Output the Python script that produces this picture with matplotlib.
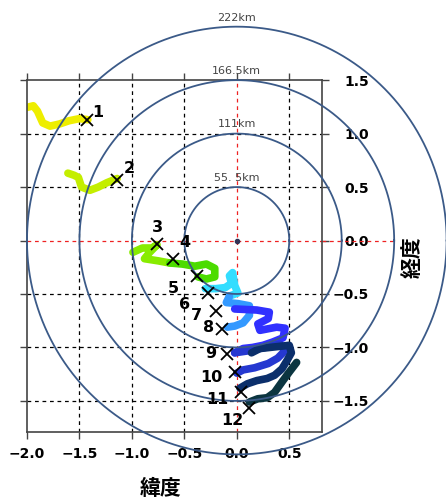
#!/usr/bin/env python3
# -*- coding: utf-8 -*-
"""
Typhoon-like track with distance rings (55.5 km per 0.5 deg) around the origin.
"""
import numpy as np
import matplotlib.pyplot as plt

# ring radii (deg) and their labels
ring_r = [0.5, 1.0, 1.5, 2.0]
ring_lab = ["55. 5km", "111km", "166.5km", "222km"]

# numbered positions (x = 緯度, y = 経度)
pt_x = [-1.43, -1.14, -0.76, -0.61, -0.38, -0.27, -0.20, -0.14, -0.09, -0.02, 0.04, 0.12]
pt_y = [1.13, 0.57, -0.03, -0.17, -0.33, -0.49, -0.66, -0.83, -1.06, -1.23, -1.42, -1.57]
pt_lab = [str(i) for i in range(1, 13)]

# track pieces, each with its colour
trk_a_x = [-2.02, -1.94, -1.90, -1.85, -1.78, -1.69, -1.60, -1.50, -1.42]
trk_a_y = [1.24, 1.26, 1.21, 1.10, 1.07, 1.09, 1.12, 1.14, 1.13]
trk_b_x = [-1.61, -1.55, -1.51, -1.48, -1.40, -1.32, -1.24, -1.14]
trk_b_y = [0.63, 0.61, 0.59, 0.50, 0.47, 0.50, 0.54, 0.58]
trk_c1_x = [-0.99, -0.90, -0.81, -0.76, -0.83, -0.88, -0.75, -0.64]
trk_c1_y = [-0.11, -0.07, -0.07, -0.04, -0.11, -0.17, -0.19, -0.21]
trk_c2_x = [-0.64, -0.52, -0.40, -0.29, -0.21, -0.21, -0.29, -0.37]
trk_c2_y = [-0.21, -0.22, -0.24, -0.22, -0.26, -0.34, -0.36, -0.34]
trk_d_x = [-0.30, -0.20, -0.11, -0.05, -0.07, -0.04, -0.02, 0.01, -0.07]
trk_d_y = [-0.45, -0.45, -0.44, -0.40, -0.33, -0.30, -0.42, -0.49, -0.52]
trk_e_x = [-0.07, -0.10, 0.01, 0.12, 0.12, 0.06, -0.02, -0.09]
trk_e_y = [-0.52, -0.58, -0.59, -0.61, -0.70, -0.77, -0.80, -0.81]
trk_f_x = [-0.02, 0.19, 0.31, 0.30, 0.20, 0.22, 0.38, 0.46, 0.44, 0.34, 0.25, 0.15, 0.06, -0.02]
trk_f_y = [-0.64, -0.65, -0.67, -0.73, -0.78, -0.84, -0.81, -0.82, -0.91, -0.95, -0.98, -1.00, -1.01, -1.05]
trk_g_x = [-0.02, 0.12, 0.27, 0.41, 0.46, 0.39, 0.30, 0.17, 0.06, 0.00]
trk_g_y = [-1.05, -1.03, -1.00, -0.97, -1.03, -1.10, -1.15, -1.19, -1.21, -1.24]
trk_h_x = [0.14, 0.22, 0.50, 0.52, 0.48, 0.43, 0.36, 0.29, 0.19, 0.10, 0.03]
trk_h_y = [-1.05, -1.01, -0.98, -1.05, -1.12, -1.20, -1.26, -1.29, -1.31, -1.34, -1.38]
trk_i_x = [0.57, 0.50, 0.44, 0.36, 0.29, 0.20, 0.12]
trk_i_y = [-1.14, -1.23, -1.31, -1.42, -1.47, -1.48, -1.51]

xticks = [-2.0, -1.5, -1.0, -0.5, 0.0, 0.5]
yticks = [-1.5, -1.0, -0.5, 0.0, 0.5, 1.0, 1.5]

tracks = [
    (trk_a_x, trk_a_y, "#eeee00"),
    (trk_b_x, trk_b_y, "#c4ee00"),
    (trk_c1_x, trk_c1_y, "#88ec00"),
    (trk_c2_x, trk_c2_y, "#4cdc00"),
    (trk_d_x, trk_d_y, "#33ddff"),
    (trk_e_x, trk_e_y, "#3399ff"),
    (trk_f_x, trk_f_y, "#3030ff"),
    (trk_g_x, trk_g_y, "#2538d0"),
    (trk_h_x, trk_h_y, "#0b2f6b"),
    (trk_i_x, trk_i_y, "#0b3540"),
]

# label offsets (points) for the numbers
lab_off = [(8, 5), (9, 8), (0, 12), (9, 12), (-17, -9), (-17, -8), (-14, -3),
           (-10, 1), (-12, 0), (-17, -4), (-17, -5), (-12, -9)]

fig = plt.figure(figsize=(4.46, 5.04), dpi=100)
ax = fig.add_axes([0.0605, 0.143, 0.661, 0.698])
ax.set_xlim(-2.0, 0.81)
ax.set_ylim(-1.79, 1.5)

for tx, ty, c in tracks:
    ax.plot(tx, ty, color=c, lw=5.5, solid_capstyle="round", solid_joinstyle="round", zorder=2)

# grid
for v in xticks:
    if v == -2.0:
        continue
    col = "#ee2222" if v == 0.0 else "black"
    ax.axvline(v, color=col, ls=(0, (3, 3)), lw=0.9, zorder=1)
for v in yticks:
    if v == 1.5:
        continue
    col = "#ee2222" if v == 0.0 else "black"
    ax.axhline(v, color=col, ls=(0, (3, 3)), lw=0.9, zorder=1)
ax.plot([0.81, 1.52], [0, 0], color="#ee2222", ls=(0, (3, 3)), lw=0.9, clip_on=False)

# distance rings
th = np.linspace(0, 2 * np.pi, 400)
for r, lab in zip(ring_r, ring_lab):
    ax.plot(r * np.cos(th), r * np.sin(th), color="#3b5a88", lw=1.3, clip_on=False, zorder=3)
    ax.annotate(lab, (0, r), xytext=(0, 3), textcoords="offset points",
                ha="center", va="bottom", fontsize=8, color="#444444",
                annotation_clip=False)
ax.plot(0, 0, "o", color="#333355", ms=3, zorder=4)

ax.plot(pt_x, pt_y, "x", color="black", ms=8, mew=1.3, ls="none", zorder=5)
for x, y, lab, off in zip(pt_x, pt_y, pt_lab, lab_off):
    ax.annotate(lab, (x, y), xytext=off, textcoords="offset points",
                ha="center", va="center", fontsize=11.5, fontweight="bold",
                color="black", zorder=6)

ax.set_xticks(xticks)
ax.set_yticks(yticks)
ax.set_xticklabels([f"{v:.1f}".replace("-", "\u2212") for v in xticks],
                   fontsize=10, fontweight="bold")
ax.set_yticklabels([f"{v:.1f}".replace("-", "\u2212") for v in yticks],
                   fontsize=10, fontweight="bold")
ax.tick_params(axis="both", direction="out", length=5, width=1, color="#444444",
               top=True, bottom=True, left=True, right=True)
ax.tick_params(axis="y", labelleft=False, labelright=True, pad=29)
ax.tick_params(axis="x", pad=6)
for t in ax.get_yticklabels():
    t.set_horizontalalignment("right")
for s in ax.spines.values():
    s.set_color("#444444")
    s.set_linewidth(1.2)

fig.text(0.36, 0.03, "緯度", family=["Noto Sans CJK JP", "DejaVu Sans"],
         fontsize=15, fontweight="bold", ha="center", va="center")
fig.text(0.925, 0.49, "経度", family=["Noto Sans CJK JP", "DejaVu Sans"],
         fontsize=15, fontweight="bold", ha="center", va="center", rotation=90)

fig.savefig("out.png", dpi=100)
